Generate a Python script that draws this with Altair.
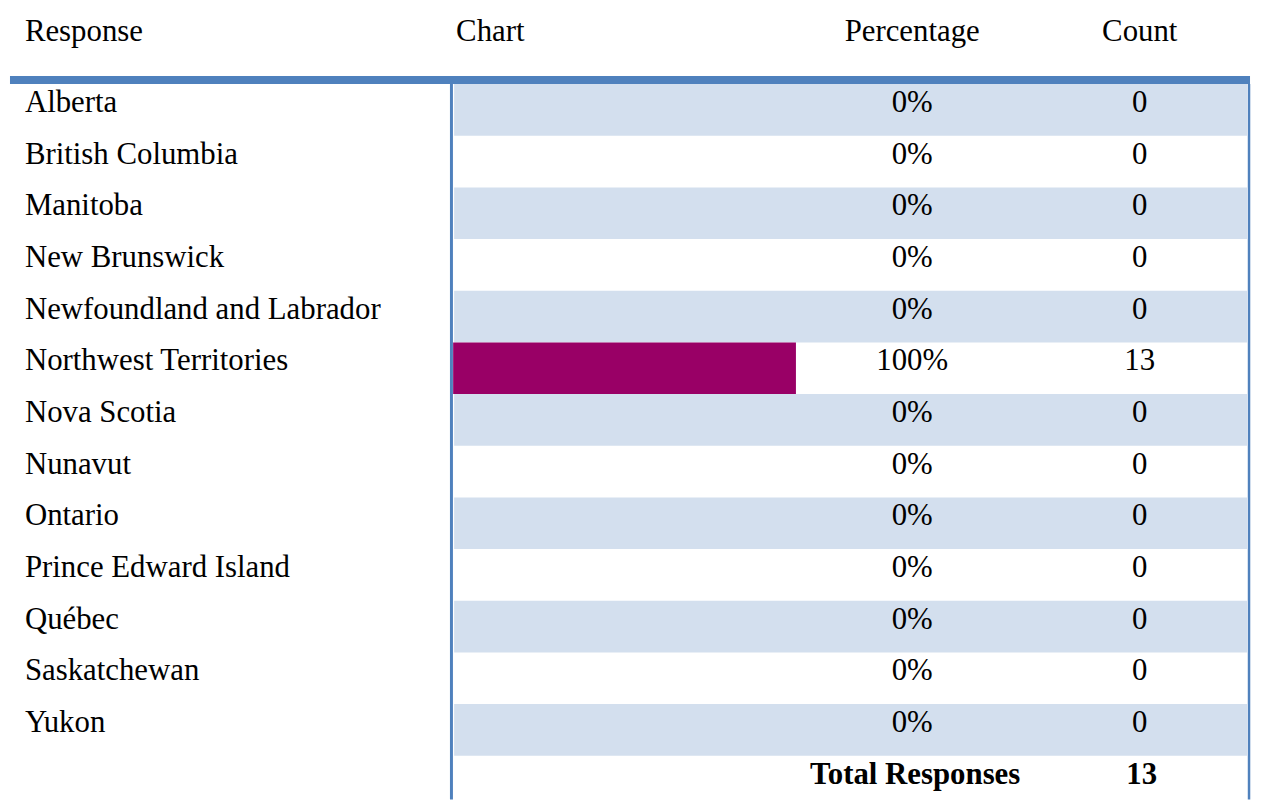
import altair as alt
import pandas as pd

responses = ["Alberta", "British Columbia", "Manitoba", "New Brunswick",
             "Newfoundland and Labrador", "Northwest Territories", "Nova Scotia",
             "Nunavut", "Ontario", "Prince Edward Island", "Québec",
             "Saskatchewan", "Yukon"]
percentages = [0, 0, 0, 0, 0, 100, 0, 0, 0, 0, 0, 0, 0]
counts = [0, 0, 0, 0, 0, 13, 0, 0, 0, 0, 0, 0, 0]
headers = ["Response", "Chart", "Percentage", "Count"]
total_label = "Total Responses"

df = pd.DataFrame({
    "response": responses,
    "pct": percentages,
    "count": counts,
    "row": list(range(len(responses))),
})
df["pct_label"] = df["pct"].astype(str) + "%"
df["count_label"] = df["count"].astype(str)
total = pd.DataFrame({"label": [total_label], "total": [str(sum(counts))]})

FONT = "Liberation Serif"
FS = 31
W, H = 1253, 794
ROW_TOP, ROW_H = 74, 52

yscale = alt.Scale(domain=responses, range=[ROW_TOP, ROW_TOP + ROW_H * len(responses)],
                   paddingInner=0, paddingOuter=0)
Y = alt.Y("response:N", scale=yscale, axis=None)

base = alt.Chart(df)

shade = base.transform_filter("datum.row % 2 == 0").mark_rect(color="#D3DFEE").encode(
    y=Y, x=alt.value(449), x2=alt.value(1247))

bar = base.mark_bar(color="#990066", cornerRadius=0).encode(
    y=Y,
    x=alt.X("pct:Q", scale=alt.Scale(domain=[0, 100], range=[448, 793]), axis=None),
    x2=alt.datum(0),
)

names = base.mark_text(align="left", baseline="alphabetic", dy=2, font=FONT,
                       fontSize=FS, color="#000000").encode(
    y=Y, x=alt.value(17), text="response:N")
pcts = base.mark_text(align="center", baseline="alphabetic", dy=2, font=FONT,
                      fontSize=FS, color="#000000").encode(
    y=Y, x=alt.value(910), text="pct_label:N")
cnts = base.mark_text(align="center", baseline="alphabetic", dy=2, font=FONT,
                      fontSize=FS, color="#000000").encode(
    y=Y, x=alt.value(1139), text="count_label:N")

hdr_x = [17, 451, 910, 1139]
hdr_align = ["left", "left", "center", "center"]
hdr_layers = [
    alt.Chart(total).mark_text(text=h, align=a, baseline="alphabetic", font=FONT,
                               fontSize=FS, color="#000000").encode(
        x=alt.value(x), y=alt.value(31))
    for h, x, a in zip(headers, hdr_x, hdr_align)
]

tot_lbl = alt.Chart(total).mark_text(align="center", baseline="alphabetic", font=FONT,
                                     fontSize=FS, fontWeight="bold", color="#000000").encode(
    x=alt.value(913), y=alt.value(778), text="label:N")
tot_val = alt.Chart(total).mark_text(align="center", baseline="alphabetic", font=FONT,
                                     fontSize=FS, fontWeight="bold", color="#000000").encode(
    x=alt.value(1141), y=alt.value(778), text="total:N")

top_rule = alt.Chart(total).mark_rule(color="#4F81BD", strokeWidth=8).encode(
    x=alt.value(2), x2=alt.value(1250), y=alt.value(70))
left_rule = alt.Chart(total).mark_rule(color="#4F81BD", strokeWidth=3).encode(
    x=alt.value(446.3), y=alt.value(74), y2=alt.value(H))
right_rule = alt.Chart(total).mark_rule(color="#4F81BD", strokeWidth=2.5).encode(
    x=alt.value(1249), y=alt.value(74), y2=alt.value(H))

chart = alt.layer(shade, bar, names, pcts, cnts, *hdr_layers, tot_lbl, tot_val,
                  top_rule, left_rule, right_rule).properties(
    width=W, height=H,
    autosize=alt.AutoSizeParams(type="none"),
    padding=0,
    background="white",
).configure_view(stroke=None)

chart.save("out.html", embed_options={"renderer": "svg", "actions": False})
